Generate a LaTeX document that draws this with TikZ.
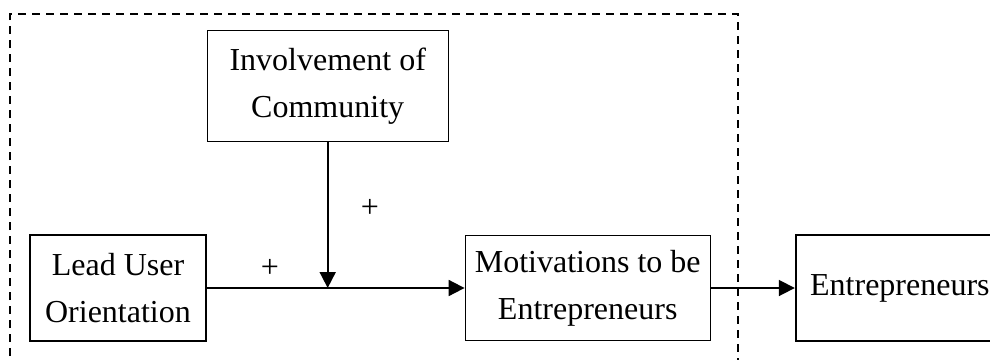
\documentclass[tikz,border=0pt]{standalone}
\usepackage{fontspec}
\setmainfont{Liberation Serif}
\usetikzlibrary{arrows.meta,positioning}
\tikzset{block/.style={
    rectangle,draw=black,line width=0.6pt,
    align=center,inner sep=2pt,
    font=\fontsize{16}{23.5}\selectfont}}
\tikzset{link/.style={line width=0.9pt,-{Triangle[length=8pt,width=8pt]}}}
\tikzset{sign/.style={font=\fontsize{16}{16}\selectfont,inner sep=0pt}}

\begin{document}
\begin{tikzpicture}[x=0.5pt,y=-0.5pt]
  \useasboundingbox (0,0) rectangle (990,360);

  \node (lead) [block,minimum width=88pt,minimum height=53pt] at (118,288) {Lead User\\Orientation};
  \node (inv)  [block,minimum width=120.5pt,minimum height=55.5pt,above right=46pt and 0pt of lead] {Involvement of\\Community};
  \node (mot)  [block,minimum width=122.5pt,minimum height=52.5pt,right=129pt of lead] {Motivations to be\\Entrepreneurs};
  \node (ent)  [block,line width=1.1pt,minimum width=104pt,minimum height=53pt,right=42pt of mot] {Entrepreneurs};

  \coordinate (join) at (inv.south |- lead.east);
  \node (plusa) [sign] at (370,208) {+};
  \node (plusb) [sign] at (270,268) {+};

  % scope of the study
  \draw [dashed,dash pattern=on 4pt off 3pt,line width=0.7pt] (10,356) -- (10,14) -- (738,14) -- (738,360);

  \draw [link] (inv.south) -- (join);
  \draw [link] (lead.east) -- (mot.west);
  \draw [link] (mot.east) -- (ent.west);

\end{tikzpicture}
\end{document}
